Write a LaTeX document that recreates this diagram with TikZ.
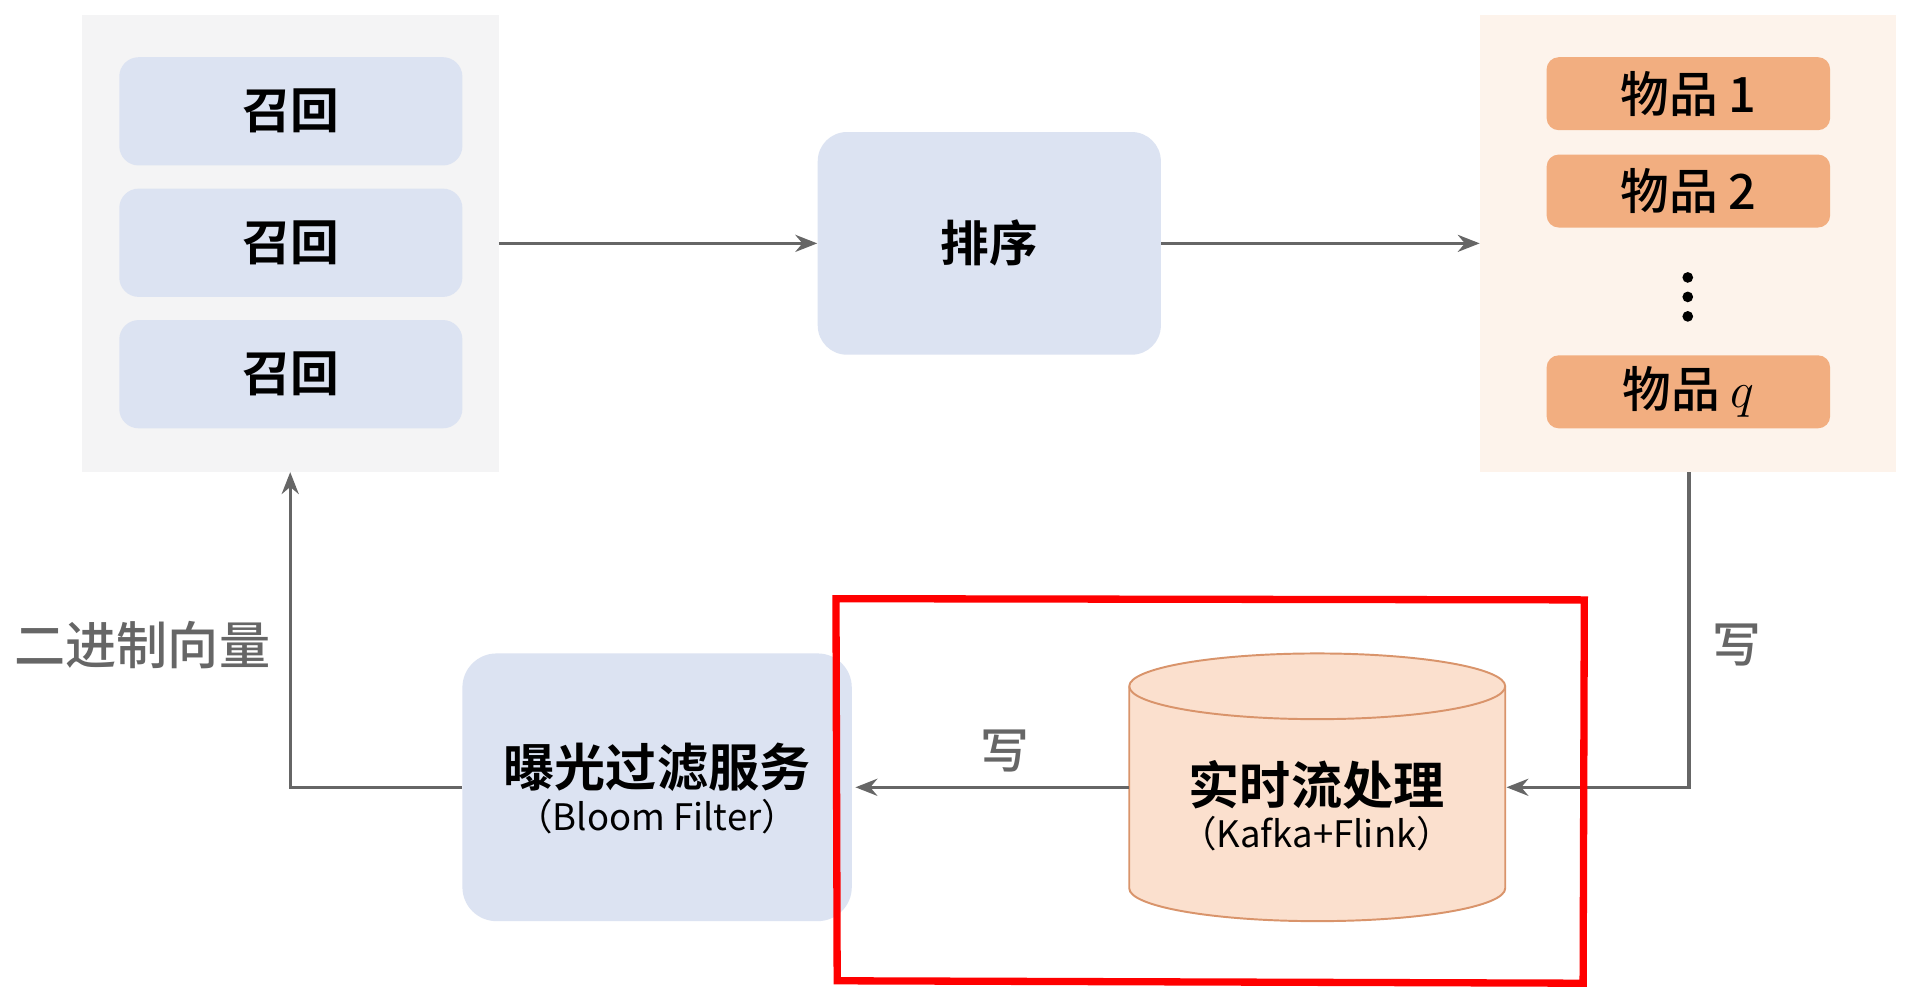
\documentclass[tikz,border=0pt]{standalone}
\usepackage{fontspec}
\setmainfont{Noto Sans CJK SC}
\newfontfamily\cjkb{Noto Sans CJK SC Bold}
\newfontfamily\cjkm{Noto Sans CJK SC Medium}
\usetikzlibrary{arrows.meta,shapes.geometric}
\definecolor{panelg}{HTML}{F4F4F5}
\definecolor{blueb}{HTML}{DCE3F2}
\definecolor{panelo}{HTML}{FDF3EB}
\definecolor{itemo}{HTML}{F2AE80}
\definecolor{cylf}{HTML}{FBE0CE}
\definecolor{cyld}{HTML}{D9946B}
\definecolor{linec}{HTML}{666666}
\begin{document}
\begin{tikzpicture}[x=0.5pt,y=-0.5pt,
  bbox/.style={fill=blueb,rounded corners=8pt,inner sep=0},
  ibox/.style={fill=itemo,rounded corners=5pt,inner sep=0},
  conn/.style={draw=linec,line width=1.3pt,-{Stealth[length=9pt,width=7pt]}},
  lbl/.style={font=\fontsize{20}{22}\selectfont\cjkb}]
\useasboundingbox (0,0) rectangle (1568,824);
\fill[white] (0,0) rectangle (1568,824);
% panels
\fill[panelg] (67,12) rectangle (410,388);
\coordinate (lp) at (238.5,388);
\node[bbox,minimum width=141pt,minimum height=44.5pt,label={[lbl]center:召回}] (r1) at (239,91.5) {};
\node[bbox,minimum width=141pt,minimum height=44.5pt,label={[lbl]center:召回}] (r2) at (239,199.5) {};
\node[bbox,minimum width=141pt,minimum height=44.5pt,label={[lbl]center:召回}] (r3) at (239,307.5) {};
\coordinate (lpr) at (410,200);
\node[bbox,rounded corners=12pt,minimum width=141pt,minimum height=91.5pt,lbl] (rank) at (813,200) {排序};
\fill[panelo] (1216,12) rectangle (1558,388);
\coordinate (rpl) at (1216,200);
\coordinate (rpb) at (1388,388);
\node[ibox,minimum width=116.5pt,minimum height=30pt,font=\fontsize{20}{22}\selectfont\cjkm] (i1) at (1387.5,77) {物品 1};
\node[ibox,minimum width=116.5pt,minimum height=30pt,font=\fontsize{20}{22}\selectfont\cjkm] (i2) at (1387.5,157) {物品 2};
\node[ibox,minimum width=116.5pt,minimum height=30pt,font=\fontsize{20}{22}\selectfont\cjkm] (iq) at (1387.5,322) {物品 $q$};
\foreach \yy in {228,244,260} \fill (1387,\yy) circle (2.2pt);
\draw[conn] (lpr) -- (rank.west);
\draw[conn] (rank.east) -- (rpl);
% cylinder
\fill[cylf,draw=cyld,line width=0.8pt] (928,564) -- (928,730) arc[x radius=154.5,y radius=27,start angle=180,end angle=0] -- (1237,564) arc[x radius=154.5,y radius=27,start angle=0,end angle=-180] -- cycle;
\draw[cyld,line width=0.8pt] (928,564) arc[x radius=154.5,y radius=27,start angle=180,end angle=0];
\node[align=center,inner sep=0] (cyl) at (1082,662) {{\fontsize{21}{24}\selectfont\cjkb 实时流处理}\\[2pt]{\fontsize{15}{18}\selectfont （Kafka+Flink）}};
\coordinate (cylw) at (928,647);
\coordinate (cyle) at (1238,647);
% bloom
\node[bbox,rounded corners=14pt,minimum width=160pt,minimum height=110pt] (bloom) at (540,647) {};
\node[align=center,inner sep=0] at (540,648) {{\fontsize{21}{24}\selectfont\cjkb 曝光过滤服务}\\[2pt]{\fontsize{15}{18}\selectfont （Bloom Filter）}};
\coordinate (bloome) at (703,647);
\draw[conn] (rpb) |- (cyle);
\node[text=linec,font=\fontsize{20}{22}\selectfont\cjkm] at (1427,530) {写};
\draw[conn] (cylw) -- (bloome);
\node[text=linec,font=\fontsize{20}{22}\selectfont\cjkm] at (826,617) {写};
\draw[conn] (bloom.west) -| (lp);
\node[text=linec,font=\fontsize{21}{24}\selectfont\cjkm] at (117,530) {二进制向量};
% red box
\draw[red,line width=3pt] (687,492) -- (1302,493) -- (1301,808) -- (688,806) -- cycle;
\end{tikzpicture}
\end{document}
